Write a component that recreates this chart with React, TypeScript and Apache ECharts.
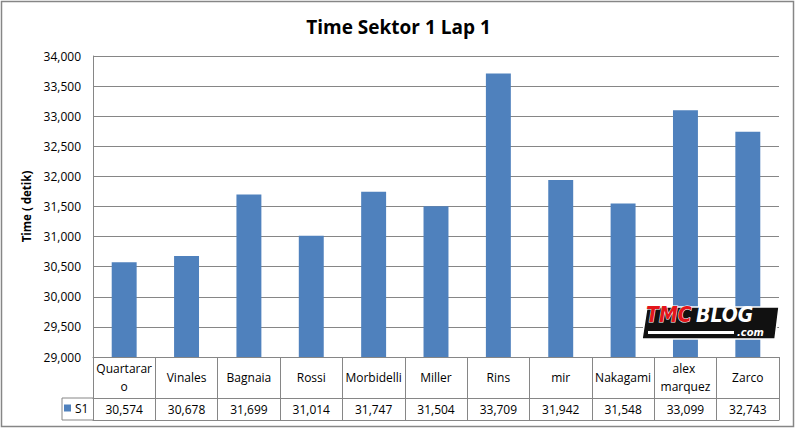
import React, { useEffect, useRef } from "react";
import * as echarts from "echarts";

const categories = ["Quartararo", "Vinales", "Bagnaia", "Rossi", "Morbidelli", "Miller", "Rins", "mir", "Nakagami", "alex marquez", "Zarco"];
const s1Values = [30574, 30678, 31699, 31014, 31747, 31504, 33709, 31942, 31548, 33099, 32743];
const seriesName = "S1";
const chartTitle = "Time Sektor 1 Lap 1";
const yAxisTitle = "Time ( detik)";
const yMin = 29000;
const yMax = 34000;
const yStep = 500;

const FONT = "'Open Sans', 'Noto Sans', sans-serif";
const GRID = "#868686";
const LOGO_FONT = "'DejaVu Sans Condensed', 'DejaVu Sans', sans-serif";

export default function App() {
  const ref = useRef<HTMLDivElement>(null);
  useEffect(() => {
    document.body.style.margin = "0";
    const chart = echarts.init(ref.current!, null, { renderer: "svg" });
    const fmt = (v: number) => v.toLocaleString("en-US");
    const valueLabels = s1Values.map(fmt);
    chart.setOption({
      animation: false,
      backgroundColor: "#fff",
      textStyle: { fontFamily: FONT },
      title: {
        text: chartTitle,
        left: "center",
        top: 12,
        textStyle: { fontFamily: FONT, fontSize: 19, fontWeight: "bold", color: "#000" },
      },
      legend: {
        data: [seriesName],
        left: 64,
        top: 402,
        icon: "rect",
        itemWidth: 7,
        itemHeight: 7,
        itemGap: 4,
        padding: 0,
        textStyle: { fontFamily: FONT, fontSize: 12, color: "#000", padding: [0, 0, 0, -1] },
      },
      grid: { left: 93, right: 18, top: 56, bottom: 72 },
      yAxis: {
        type: "value",
        min: yMin,
        max: yMax,
        interval: yStep,
        name: yAxisTitle,
        nameLocation: "middle",
        nameGap: 61,
        nameRotate: 90,
        nameTextStyle: { fontFamily: FONT, fontSize: 11.5, fontWeight: "bold", color: "#000" },
        axisLine: { show: true, lineStyle: { color: GRID } },
        axisTick: { show: false },
        axisLabel: { formatter: (v: number) => fmt(v), color: "#000", fontSize: 12, margin: 12, fontFamily: FONT },
        splitLine: { lineStyle: { color: GRID } },
      },
      xAxis: [
        {
          type: "category",
          data: categories,
          position: "bottom",
          axisLine: { show: true, lineStyle: { color: GRID } },
          axisTick: { show: true, interval: 0, length: 63, lineStyle: { color: GRID } },
          axisLabel: {
            interval: 0,
            width: 58,
            overflow: "break",
            verticalAlign: "middle",
            margin: 20,
            lineHeight: 18,
            fontSize: 12,
            color: "#000",
            fontFamily: FONT,
          },
        },
        {
          type: "category",
          data: valueLabels,
          position: "bottom",
          offset: 41,
          axisLine: { show: true, lineStyle: { color: GRID } },
          axisTick: { show: false },
          axisLabel: { interval: 0, verticalAlign: "middle", margin: 11, fontSize: 12, color: "#000", fontFamily: FONT },
        },
        {
          type: "category",
          data: valueLabels,
          position: "bottom",
          offset: 63,
          axisLine: { show: true, lineStyle: { color: GRID } },
          axisTick: { show: false },
          axisLabel: { show: false },
        },
      ],
      series: [
        {
          name: seriesName,
          type: "bar",
          data: s1Values,
          xAxisIndex: 0,
          barWidth: "40%",
          itemStyle: { color: "#4F81BD" },
        },
      ],
      graphic: [
        { type: "rect", shape: { x: 1.5, y: 1.5, width: 792, height: 425 }, style: { fill: "none", stroke: GRID, lineWidth: 1.5 }, silent: true },
        { type: "line", shape: { x1: 62, y1: 398, x2: 93, y2: 398 }, style: { stroke: GRID, lineWidth: 1 } },
        { type: "line", shape: { x1: 62, y1: 420, x2: 93, y2: 420 }, style: { stroke: GRID, lineWidth: 1 } },
        { type: "line", shape: { x1: 62, y1: 398, x2: 62, y2: 420 }, style: { stroke: GRID, lineWidth: 1 } },
        { type: "polygon", z: 100, z2: 1, shape: { points: [[647, 307], [779, 307], [775, 339], [642, 339]] }, style: { fill: "#111", stroke: "#fff", lineWidth: 1.5 } },
        { type: "text", z: 100, z2: 2, x: 646, y: 304, style: { text: "TMC", align: "left", verticalAlign: "top", fontFamily: LOGO_FONT, fontWeight: "bold", fontStyle: "italic", fontSize: 21, lineHeight: 21, fill: "#e3151b", stroke: "#fff", lineWidth: 1 } },
        { type: "text", z: 100, z2: 2, x: 696, y: 304, style: { text: "BLOG", align: "left", verticalAlign: "top", fontFamily: LOGO_FONT, fontWeight: "bold", fontStyle: "italic", fontSize: 21, lineHeight: 21, fill: "#fff" } },
        { type: "rect", z: 100, z2: 2, shape: { x: 648, y: 331, width: 86, height: 3 }, style: { fill: "#fff" } },
        { type: "text", z: 100, z2: 2, x: 737, y: 327, style: { text: ".com", align: "left", verticalAlign: "top", fontFamily: LOGO_FONT, fontWeight: "bold", fontStyle: "italic", fontSize: 11, lineHeight: 11, fill: "#fff" } },
      ],
    });
    return () => chart.dispose();
  }, []);
  return <div ref={ref} style={{ position: "absolute", left: 0, top: 0, width: 797, height: 429 }} />;
}
